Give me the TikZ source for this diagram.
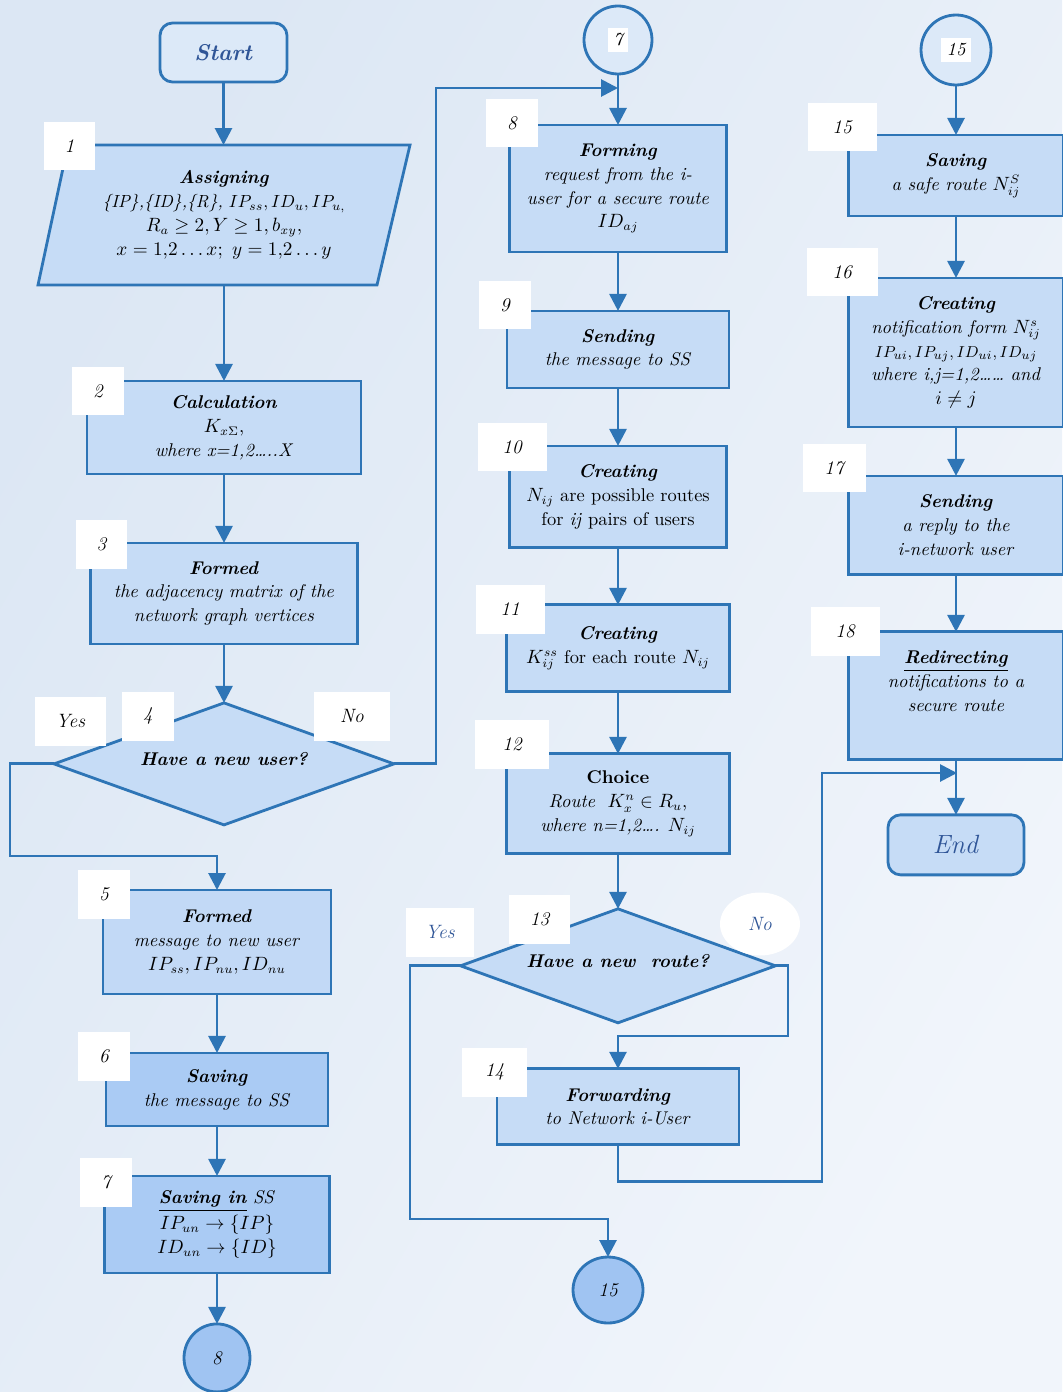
\documentclass[tikz,border=0pt]{standalone}
\usepackage{amssymb,amsmath}
\usepackage{xcolor}
\usepackage{tikz}
\usetikzlibrary{positioning}
\usetikzlibrary{shapes.geometric}
\usetikzlibrary{arrows.meta}
\definecolor{lineblue}{HTML}{2E75B6}
\definecolor{boxfill}{HTML}{C6DCF6}
\definecolor{boxdeep}{HTML}{AACBF4}
\definecolor{termfill}{HTML}{DCE9F8}
\definecolor{jumpfill}{HTML}{A0C4F2}
\definecolor{textblue}{HTML}{2F5597}
\definecolor{bgleft}{HTML}{DCE7F4}
\definecolor{bgright}{HTML}{F1F5FB}
\newcommand{\ttl}[1]{\textbf{\textit{#1}}}

\begin{document}
\begin{tikzpicture}[x=0.02cm, y=-0.02cm, line width=1.6pt,
  >={Triangle[width=0.34cm,length=0.34cm]},
  block/.style={draw=lineblue, fill=boxfill, align=center, inner sep=2pt, outer sep=0pt,
    font=\fontsize{10.5}{13.6}\selectfont},
  decision/.style={block, diamond, inner sep=0pt},
  terminal/.style={block, fill=termfill, rounded corners=0.25cm, text=textblue},
  jump/.style={block, ellipse, fill=jumpfill, font=\itshape\fontsize{11}{13}\selectfont},
  numbox/.style={fill=white, minimum width=1.04cm, minimum height=0.98cm,
    font=\itshape\fontsize{11}{13}\selectfont},
  widebox/.style={numbox, minimum width=1.38cm},
  link/.style={draw=lineblue, ->}]
  \useasboundingbox (0,0) rectangle (1062,1392);
  \shade[left color=bgleft, right color=bgright, shading angle=60] (0,0) rectangle (1062,1392);

  \node (start) [terminal, minimum width=2.54cm, minimum height=1.18cm] at (223.5,52.5)
    {\fontsize{13}{15}\selectfont\ttl{Start}};
  \draw[draw=lineblue, fill=boxfill] (68,145) -- (410,145) -- (377,285) -- (38,285) -- cycle;
  \node (b1) [block, draw=none, fill=none, minimum width=6.8cm, minimum height=2.8cm]
    at (224,215)
    {\ttl{Assigning}\\
     {\fontsize{10}{13.6}\selectfont\textit{\{IP\},\{ID\},\{R\},} $IP_{ss},ID_u,IP_{u,}$}\\
     $R_a\geq 2, Y\geq 1, b_{xy},$\\ $x=1{,}2\ldots x;\ y=1{,}2\ldots y$};
  \node (b2) [block, minimum width=5.48cm, minimum height=1.86cm, below=1.92cm of b1]
    {\ttl{Calculation}\\ $K_{x\Sigma}$,\\ \textit{where x=1,2\dots..X}};
  \node (b3) [block, minimum width=5.34cm, minimum height=2.02cm, below=1.38cm of b2]
    {\ttl{Formed}\\ \textit{the adjacency matrix of the}\\ \textit{network graph vertices}};
  \node (d4) [decision, minimum width=6.8cm, minimum height=2.44cm, aspect=2.79,
    below=1.18cm of b3] {\raisebox{6pt}{\ttl{Have a new user?}}};
  \node (b5) [block, fill=boxfill!85!boxdeep, minimum width=4.56cm, minimum height=2.08cm]
    at (217,942) {\ttl{Formed}\\ \textit{message to new user}\\ $IP_{ss},IP_{nu},ID_{nu}$};
  \node (b6) [block, fill=boxdeep, minimum width=4.44cm, minimum height=1.46cm,
    below=1.18cm of b5] {\ttl{Saving}\\ \textit{the message to SS}};
  \node (b7) [block, fill=boxdeep, minimum width=4.5cm, minimum height=1.94cm,
    below=1.0cm of b6]
    {\underline{\ttl{Saving in}} \textit{SS}\\[1pt] $IP_{un}\rightarrow\{IP\}$\\ $ID_{un}\rightarrow\{ID\}$};
  \node (c8) [jump, minimum width=1.32cm, minimum height=1.36cm, below=1.02cm of b7] {8};

  \node (c7) [block, circle, fill=termfill, minimum size=1.36cm] at (618,40)
    {\colorbox{white}{\itshape 7}};
  \node (b8) [block, minimum width=4.34cm, minimum height=2.54cm, below=1.02cm of c7]
    {\ttl{Forming}\\ \textit{request from the i-}\\ \textit{user for a secure route}\\ $ID_{aj}$};
  \node (b9) [block, minimum width=4.44cm, minimum height=1.54cm, below=1.18cm of b8]
    {\ttl{Sending}\\ \textit{the message to SS}};
  \node (b10) [block, minimum width=4.34cm, minimum height=2.04cm, below=1.16cm of b9]
    {\ttl{Creating}\\ $N_{ij}$ are possible routes\\ for \textit{ij} pairs of users};
  \node (b11) [block, minimum width=4.46cm, minimum height=1.74cm, below=1.14cm of b10]
    {\ttl{Creating}\\ $K^{ss}_{ij}$ for each route $N_{ij}$};
  \node (b12) [block, minimum width=4.46cm, minimum height=2.0cm, below=1.24cm of b11]
    {\textbf{Choice}\\ \textit{Route}\ \ $K^n_x\in R_u$,\\ \textit{where n=1,2\dots.} $N_{ij}$};
  \node (d13) [decision, minimum width=6.3cm, minimum height=2.28cm, aspect=2.76,
    below=1.1cm of b12] {\raisebox{5pt}{\ttl{Have a new\ \ route?}}};
  \node (b14) [block, minimum width=4.84cm, minimum height=1.52cm, below=0.92cm of d13]
    {\ttl{Forwarding}\\ \textit{to Network i-User}};
  \node (c15b) [jump, minimum width=1.4cm, minimum height=1.32cm] at (608,1290) {15};

  \node (c15) [block, circle, fill=termfill, minimum size=1.4cm] at (956,50)
    {\colorbox{white}{\itshape 15}};
  \node (b15) [block, minimum width=4.3cm, minimum height=1.62cm, below=1.0cm of c15]
    {\ttl{Saving}\\ \textit{a safe route} $N^S_{ij}$};
  \node (b16) [block, minimum width=4.3cm, minimum height=2.98cm, below=1.24cm of b15]
    {\ttl{Creating}\\ \textit{notification form} $N^s_{ij}$\\
     {\fontsize{9.5}{12}\selectfont$IP_{ui},IP_{uj},ID_{ui},ID_{uj}$}\\
     \textit{where i,j=1,2\dots\dots{} and}\\ $i\neq j$};
  \node (b17) [block, minimum width=4.3cm, minimum height=1.98cm, below=0.98cm of b16]
    {\ttl{Sending}\\ \textit{a reply to the}\\ \textit{i-network user}};
  \node (b18) [block, minimum width=4.3cm, minimum height=2.56cm, below=1.14cm of b17]
    {\underline{\ttl{Redirecting}}\\ \textit{notifications to a}\\ \textit{secure route}\\[3pt]};
  \node (end) [terminal, fill=boxfill, minimum width=2.72cm, minimum height=1.2cm,
    below=1.1cm of b18] {\fontsize{15}{17}\selectfont\textit{End}};

  \node (n1) [numbox] at (69.5,146) {1};
  \node (n2) [numbox] at (98,391) {2};
  \node (n3) [numbox] at (101.5,544) {3};
  \node (n4) [numbox] at (148,716) {4};
  \node (yes4) [numbox, minimum width=1.42cm] at (70.5,721) {Yes};
  \node (no4) [numbox, minimum width=1.52cm] at (352,716) {No};
  \node (n5) [numbox] at (104,894) {5};
  \node (n6) [numbox] at (104,1056) {6};
  \node (n7) [numbox] at (106,1182) {7};
  \node (n8) [numbox] at (512,123) {8};
  \node (n9) [numbox] at (505,305) {9};
  \node (n10) [widebox] at (512,447) {10};
  \node (n11) [widebox] at (510,609) {11};
  \node (n12) [widebox, minimum width=1.48cm] at (512,744) {12};
  \node (n13) [widebox, minimum width=1.22cm] at (539.5,919) {13};
  \node (yes13) [numbox, minimum width=1.36cm, text=textblue] at (440,932) {Yes};
  \node (no13) [numbox, ellipse, minimum width=1.6cm, minimum height=1.26cm, text=textblue]
    at (760,924) {No};
  \node (n14) [widebox, minimum width=1.3cm] at (494.5,1072) {14};
  \node (n15) [widebox] at (842,127) {15};
  \node (n16) [widebox, minimum width=1.42cm] at (842,272) {16};
  \node (n17) [widebox, minimum width=1.26cm] at (834,468) {17};
  \node (n18) [widebox] at (845,631) {18};

  \coordinate (j7) at (618,88);
  \coordinate (j18) at (957,773);

  \draw[link] (start) -- (start |- b1.north);
  \draw[link] (b1) -- (b2);
  \draw[link] (b2) -- (b3);
  \draw[link] (b3) -- (d4);
  \draw[link] (d4.west) -| (10,856) -| (b5.north);
  \draw[link] (d4.east) -| (436,88) -- (j7);
  \draw[link] (b5) -- (b6);
  \draw[link] (b6) -- (b7);
  \draw[link] (b7) -- (c8);
  \draw[link] (c7) -- (b8);
  \draw[link] (b8) -- (b9);
  \draw[link] (b9) -- (b10);
  \draw[link] (b10) -- (b11);
  \draw[link] (b11) -- (b12);
  \draw[link] (b12) -- (d13.north);
  \draw[link] (d13.west) -| (410,1219) -| (c15b.north);
  \draw[link] (d13.east) -| (788,1036) -| (b14.north);
  \draw[link] (b14.south) -- ++(0,37) -| (822,773) -- (j18);
  \draw[link] (c15) -- (b15);
  \draw[link] (b15) -- (b16);
  \draw[link] (b16) -- (b17);
  \draw[link] (b17) -- (b18);
  \draw[link] (b18) -- (end);
\end{tikzpicture}
\end{document}
